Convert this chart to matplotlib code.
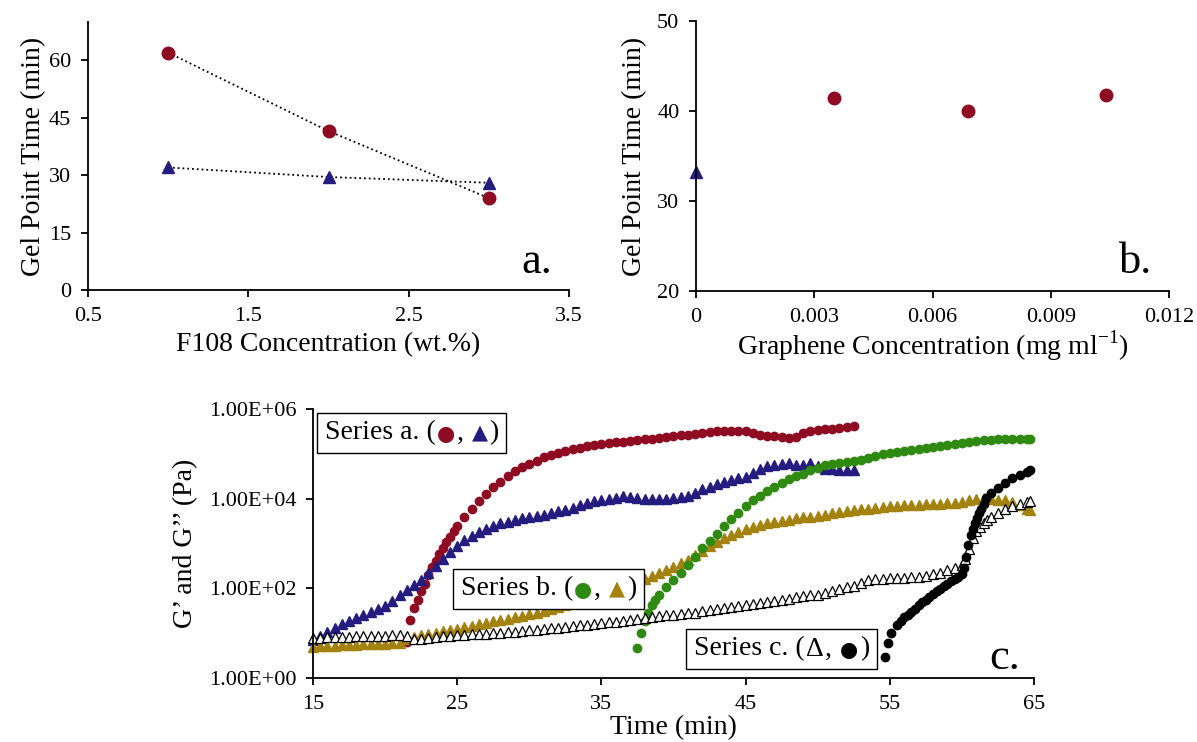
import numpy as np
import matplotlib
matplotlib.use("Agg")
import matplotlib.pyplot as plt
from matplotlib.offsetbox import TextArea, HPacker, AnnotationBbox

plt.rcParams['font.family'] = ['Liberation Serif', 'DejaVu Sans']
plt.rcParams['mathtext.fontset'] = 'custom'
plt.rcParams['mathtext.rm'] = 'Liberation Serif'

# ---- colores ----
ROJO = '#8E0B22'
AZUL = '#241C7E'
VERDE = '#2F8A12'
ORO = '#A3820F'

# ---- panel a: gel point vs F108 ----
f108 = [1, 2, 3]
gel_a_circ = [62, 41.5, 24]
gel_a_tri = [32, 29.5, 28]

# ---- panel b: gel point vs graphene ----
graf_circ = [0.0035, 0.0069, 0.0104]
gel_b_circ = [41.5, 40.0, 41.8]
graf_tri = [0.0]
gel_b_tri = [33.2]

# ---- panel c: G' y G'' (log10 Pa) vs tiempo ----
t_a1 = [21.5, 21.75, 22.0, 22.25, 22.5, 22.75, 23.0, 23.25, 23.5, 23.75, 24.0, 24.25, 24.5, 24.75, 25.0,
        25.5, 26.0, 26.5, 27.0, 27.5, 28.0, 28.5, 29.0, 29.5, 30.0, 30.5, 31.0, 31.5, 32.0, 32.5, 33.0,
        33.5, 34.0, 34.5, 35.0, 35.5, 36.0, 36.5, 37.0, 37.5, 38.0, 38.5, 39.0, 39.5, 40.0, 40.5, 41.0,
        41.5, 42.0, 42.5, 43.0, 43.5, 44.0, 44.5, 45.0, 45.5, 46.0, 46.5, 47.0, 47.5, 48.0, 48.5, 49.0,
        49.5, 50.0, 50.5, 51.0, 51.5, 52.0, 52.5]
g_a1 = [0.81, 1.30, 1.55, 1.75, 1.95, 2.10, 2.30, 2.47, 2.61, 2.76, 2.90, 3.03, 3.15, 3.27, 3.38,
        3.58, 3.78, 3.95, 4.10, 4.25, 4.38, 4.50, 4.61, 4.70, 4.78, 4.85, 4.92, 4.97, 5.02, 5.06, 5.10,
        5.13, 5.17, 5.20, 5.23, 5.25, 5.27, 5.27, 5.28, 5.30, 5.32, 5.34, 5.35, 5.37, 5.39, 5.41, 5.42,
        5.44, 5.46, 5.48, 5.50, 5.51, 5.50, 5.50, 5.51, 5.47, 5.41, 5.39, 5.40, 5.38, 5.36, 5.38, 5.47,
        5.52, 5.53, 5.55, 5.56, 5.58, 5.59, 5.62]

t_a2 = [15.0, 15.5, 16.0, 16.5, 17.0, 17.5, 18.0, 18.5, 19.0, 19.5, 20.0, 20.5, 21.0, 21.5, 22.0,
        22.5, 23.0, 23.5, 24.0, 24.5, 25.0, 25.5, 26.0, 26.5, 27.0, 27.5, 28.0, 28.5, 29.0, 29.5, 30.0,
        30.5, 31.0, 31.5, 32.0, 32.5, 33.0, 33.5, 34.0, 34.5, 35.0, 35.5, 36.0, 36.5, 37.0, 37.5, 38.0,
        38.5, 39.0, 39.5, 40.0, 40.5, 41.0, 41.5, 42.0, 42.5, 43.0, 43.5, 44.0, 44.5, 45.0, 45.5, 46.0,
        46.5, 47.0, 47.5, 48.0, 48.5, 49.0, 49.5, 50.0, 50.5, 51.0, 51.5, 52.0, 52.5]
g_a2 = [0.85, 0.93, 1.03, 1.12, 1.20, 1.27, 1.33, 1.40, 1.47, 1.54, 1.61, 1.72, 1.84, 1.96, 2.07,
        2.18, 2.35, 2.50, 2.66, 2.82, 2.95, 3.08, 3.17, 3.26, 3.32, 3.39, 3.45, 3.49, 3.53, 3.56, 3.59,
        3.61, 3.64, 3.68, 3.72, 3.75, 3.80, 3.86, 3.91, 3.95, 3.97, 4.00, 4.02, 4.06, 4.04, 4.01, 3.99,
        4.00, 4.00, 3.99, 4.01, 4.03, 4.06, 4.13, 4.21, 4.27, 4.32, 4.37, 4.42, 4.46, 4.49, 4.58, 4.67,
        4.72, 4.75, 4.78, 4.80, 4.76, 4.74, 4.80, 4.72, 4.67, 4.66, 4.65, 4.64, 4.64]

t_b1 = [37.5, 37.75, 38.0, 38.25, 38.5, 38.75, 39.0, 39.5, 40.0, 40.5, 41.0, 41.5, 42.0, 42.5, 43.0,
        43.5, 44.0, 44.5, 45.0, 45.5, 46.0, 46.5, 47.0, 47.5, 48.0, 48.5, 49.0, 49.5, 50.0, 50.5, 51.0,
        51.5, 52.0, 52.5, 53.0, 53.5, 54.0, 54.5, 55.0, 55.5, 56.0, 56.5, 57.0, 57.5, 58.0, 58.5, 59.0,
        59.5, 60.0, 60.5, 61.0, 61.5, 62.0, 62.5, 63.0, 63.5, 64.0, 64.5, 64.75]
g_b1 = [0.66, 1.00, 1.28, 1.45, 1.62, 1.75, 1.86, 2.03, 2.19, 2.35, 2.51, 2.70, 2.89, 3.06, 3.22,
        3.39, 3.55, 3.69, 3.83, 3.96, 4.07, 4.18, 4.27, 4.36, 4.44, 4.50, 4.56, 4.63, 4.69, 4.74, 4.77,
        4.79, 4.81, 4.83, 4.87, 4.91, 4.95, 4.99, 5.02, 5.04, 5.06, 5.08, 5.10, 5.12, 5.15, 5.18, 5.20,
        5.22, 5.25, 5.27, 5.29, 5.30, 5.31, 5.32, 5.32, 5.33, 5.33, 5.34, 5.34]

t_b2 = [15.0, 15.5, 16.0, 16.5, 17.0, 17.5, 18.0, 18.5, 19.0, 19.5, 20.0, 20.5, 21.0, 21.5, 22.0,
        22.5, 23.0, 23.5, 24.0, 24.5, 25.0, 25.5, 26.0, 26.5, 27.0, 27.5, 28.0, 28.5, 29.0, 29.5, 30.0,
        30.5, 31.0, 31.5, 32.0, 32.5, 33.0, 33.5, 34.0, 34.5, 35.0, 35.5, 36.0, 36.5, 37.0, 37.5, 38.0,
        38.5, 39.0, 39.5, 40.0, 40.5, 41.0, 41.5, 42.0, 42.5, 43.0, 43.5, 44.0, 44.5, 45.0, 45.5, 46.0,
        46.5, 47.0, 47.5, 48.0, 48.5, 49.0, 49.5, 50.0, 50.5, 51.0, 51.5, 52.0, 52.5, 53.0, 53.5, 54.0,
        54.5, 55.0, 55.5, 56.0, 56.5, 57.0, 57.5, 58.0, 58.5, 59.0, 59.5, 60.0, 60.5, 61.0, 61.5, 62.0,
        62.5, 63.0, 63.5, 64.0, 64.5, 64.75]
g_b2 = [0.70, 0.71, 0.71, 0.72, 0.73, 0.74, 0.74, 0.75, 0.75, 0.76, 0.76, 0.77, 0.79, 0.86, 0.92,
        0.95, 0.98, 1.01, 1.04, 1.07, 1.10, 1.13, 1.17, 1.20, 1.23, 1.26, 1.29, 1.32, 1.35, 1.38, 1.42,
        1.46, 1.50, 1.54, 1.58, 1.62, 1.67, 1.72, 1.77, 1.81, 1.86, 1.92, 1.98, 2.05, 2.11, 2.16, 2.21,
        2.27, 2.34, 2.41, 2.48, 2.56, 2.64, 2.74, 2.84, 2.94, 3.04, 3.13, 3.20, 3.26, 3.32, 3.37, 3.41,
        3.45, 3.48, 3.51, 3.53, 3.56, 3.58, 3.60, 3.62, 3.64, 3.67, 3.70, 3.72, 3.74, 3.76, 3.78, 3.80,
        3.81, 3.83, 3.84, 3.85, 3.85, 3.86, 3.87, 3.88, 3.89, 3.90, 3.91, 3.93, 3.96, 3.99, 4.01, 3.99,
        3.98, 3.96, 3.92, 3.86, 3.78, 3.75]

t_c1 = [15.0, 15.5, 16.0, 16.5, 17.0, 17.5, 18.0, 18.5, 19.0, 19.5, 20.0, 20.5, 21.0, 21.5, 22.0,
        22.5, 23.0, 23.5, 24.0, 24.5, 25.0, 25.5, 26.0, 26.5, 27.0, 27.5, 28.0, 28.5, 29.0, 29.5, 30.0,
        30.5, 31.0, 31.5, 32.0, 32.5, 33.0, 33.5, 34.0, 34.5, 35.0, 35.5, 36.0, 36.5, 37.0, 37.5, 38.0,
        38.5, 39.0, 39.5, 40.0, 40.5, 41.0, 41.5, 42.0, 42.5, 43.0, 43.5, 44.0, 44.5, 45.0, 45.5, 46.0,
        46.5, 47.0, 47.5, 48.0, 48.5, 49.0, 49.5, 50.0, 50.5, 51.0, 51.5, 52.0, 52.5, 53.0, 53.5, 54.0,
        54.5, 55.0, 55.5, 56.0, 56.5, 57.0, 57.5, 58.0, 58.5, 59.0, 59.5, 60.0, 60.25, 60.5, 60.75, 61.0,
        61.25, 61.5, 61.75, 62.0, 62.5, 63.0, 63.5, 64.0, 64.5, 64.75]
g_c1 = [0.90, 0.90, 0.91, 0.91, 0.92, 0.92, 0.93, 0.93, 0.93, 0.94, 0.94, 0.95, 0.95, 0.93, 0.88,
        0.88, 0.90, 0.92, 0.93, 0.94, 0.95, 0.96, 0.97, 0.98, 0.99, 1.00, 1.01, 1.02, 1.03, 1.05, 1.06,
        1.07, 1.09, 1.11, 1.12, 1.14, 1.16, 1.18, 1.19, 1.21, 1.22, 1.24, 1.25, 1.27, 1.29, 1.31, 1.33,
        1.36, 1.38, 1.40, 1.41, 1.43, 1.44, 1.46, 1.49, 1.52, 1.54, 1.56, 1.58, 1.61, 1.63, 1.66, 1.68,
        1.70, 1.72, 1.74, 1.77, 1.80, 1.82, 1.84, 1.86, 1.90, 1.94, 1.98, 2.02, 2.05, 2.12, 2.18, 2.20,
        2.21, 2.22, 2.23, 2.24, 2.25, 2.26, 2.28, 2.31, 2.35, 2.40, 2.46, 2.53, 2.65, 2.88, 3.12, 3.27,
        3.36, 3.45, 3.53, 3.60, 3.69, 3.78, 3.84, 3.89, 3.92, 3.94]

t_c2 = [54.7, 54.85, 55.1, 55.5, 55.75, 56.0, 56.25, 56.5, 56.75, 57.0, 57.25, 57.5, 57.75, 58.0, 58.25,
        58.5, 58.75, 59.0, 59.25, 59.5, 59.75, 60.0, 60.15, 60.3, 60.45, 60.6, 60.75, 60.9, 61.05, 61.2,
        61.35, 61.5, 61.7, 62.0, 62.5, 63.0, 63.5, 64.0, 64.5, 64.75]
g_c2 = [0.47, 0.79, 1.01, 1.18, 1.27, 1.35, 1.41, 1.47, 1.54, 1.62, 1.69, 1.75, 1.81, 1.88, 1.93,
        1.99, 2.05, 2.10, 2.16, 2.21, 2.25, 2.33, 2.45, 2.70, 2.97, 3.18, 3.33, 3.45, 3.57, 3.67,
        3.77, 3.88, 4.02, 4.12, 4.24, 4.36, 4.46, 4.53, 4.59, 4.63]

ticks_c = [1, 1e2, 1e4, 1e6]
ticks_c_lbl = ['1.00E+00', '1.00E+02', '1.00E+04', '1.00E+06']

fig = plt.figure(figsize=(11.97, 7.42), dpi=100)


def estilo(ax):
    for s in ['top', 'right']:
        ax.spines[s].set_visible(False)
    for s in ['left', 'bottom']:
        ax.spines[s].set_linewidth(1.3)
    ax.tick_params(direction='out', length=5, width=1.3, labelsize=16, pad=7)
    ax.minorticks_off()


# ------- panel a -------
axa = fig.add_axes([0.0735, 0.6092, 0.4019, 0.3612])
axa.plot(f108, gel_a_circ, ':', color='black', lw=1.3, zorder=1)
axa.plot(f108, gel_a_tri, ':', color='black', lw=1.3, zorder=1)
axa.plot(f108, gel_a_circ, 'o', color=ROJO, ms=9, zorder=2)
axa.plot(f108, gel_a_tri, '^', color=AZUL, ms=9, zorder=2)
axa.set_xlim(0.5, 3.5)
axa.set_ylim(0, 70)
axa.set_xticks([0.5, 1.5, 2.5, 3.5])
axa.set_yticks([0, 15, 30, 45, 60])
estilo(axa)
axa.set_xlabel('F108 Concentration (wt.%)', fontsize=20, labelpad=5)
axa.set_ylabel('Gel Point Time (min)', fontsize=20, labelpad=2)
axa.text(0.965, 0.063, 'a.', transform=axa.transAxes, fontsize=32, ha='right', va='baseline')

# ------- panel b -------
axb = fig.add_axes([0.5815, 0.6078, 0.3951, 0.3639])
axb.plot(graf_circ, gel_b_circ, 'o', color=ROJO, ms=9, clip_on=False)
axb.plot(graf_tri, gel_b_tri, '^', color=AZUL, ms=8, clip_on=False)
axb.set_xlim(0, 0.012)
axb.set_ylim(20, 50)
axb.set_xticks([0, 0.003, 0.006, 0.009, 0.012])
axb.set_xticklabels(['0', '0.003', '0.006', '0.009', '0.012'])
axb.set_yticks([20, 30, 40, 50])
estilo(axb)
axb.set_xlabel(r'Graphene Concentration (mg ml$^{\mathregular{-1}}$)', fontsize=20, labelpad=1)
axb.set_ylabel('Gel Point Time (min)', fontsize=20, labelpad=7)
axb.text(0.964, 0.067, 'b.', transform=axb.transAxes, fontsize=32, ha='right', va='baseline')

# ------- panel c -------
axc = fig.add_axes([0.2615, 0.0863, 0.6023, 0.3625])
axc.plot(t_a1, 10 ** np.array(g_a1), 'o', color=ROJO, ms=6, mec=ROJO, clip_on=False)
axc.plot(t_a2, 10 ** np.array(g_a2), '^', color=AZUL, ms=7, mec=AZUL, clip_on=False)
axc.plot(t_b2, 10 ** np.array(g_b2), '^', color=ORO, ms=7, mec=ORO, clip_on=False)
axc.plot(t_b1, 10 ** np.array(g_b1), 'o', color=VERDE, ms=6, mec=VERDE, clip_on=False)
axc.plot(t_c1, 10 ** np.array(g_c1), '^', mfc='white', mec='black', mew=0.9, ms=7, ls='none', clip_on=False)
axc.plot(t_c2, 10 ** np.array(g_c2), 'o', color='black', ms=6, clip_on=False)
axc.set_yscale('log')
axc.set_xlim(15, 65)
axc.set_ylim(1, 1e6)
axc.set_xticks([15, 25, 35, 45, 55, 65])
axc.set_yticks(ticks_c)
axc.set_yticklabels(ticks_c_lbl)
estilo(axc)
axc.set_xlabel('Time (min)', fontsize=20, labelpad=1)
axc.set_ylabel('G\u2019 and G\u2019\u2019 (Pa)', fontsize=20, labelpad=8)
axc.text(0.98, 0.035, 'c.', transform=axc.transAxes, fontsize=32, ha='right', va='baseline')


def caja(ax, x, y, nombre, s1, c1, s2, c2):
    fp = dict(fontsize=20, family=['Liberation Serif', 'DejaVu Sans'])
    fs = dict(fontsize=15, family=['DejaVu Sans'])
    partes = [TextArea(nombre + ' (', textprops=dict(color='black', **fp)),
              TextArea(s1, textprops=dict(color=c1, **(fp if s1 == '\u0394' else fs))),
              TextArea(',\u00a0', textprops=dict(color='black', **fp)),
              TextArea(s2, textprops=dict(color=c2, **fs)),
              TextArea(')', textprops=dict(color='black', **fp))]
    fila = HPacker(children=partes, align='baseline', pad=0, sep=1)
    ab = AnnotationBbox(fila, (x, y), xycoords='axes fraction', box_alignment=(0, 1),
                        frameon=True, pad=0.55,
                        bboxprops=dict(edgecolor='black', facecolor='white', linewidth=1.0))
    ax.add_artist(ab)


caja(axc, 0.0166, 0.957, 'Series a.', '\u25cf', ROJO, '\u25b2', AZUL)
caja(axc, 0.2047, 0.377, 'Series b.', '\u25cf', VERDE, '\u25b2', ORO)
caja(axc, 0.5279, 0.154, 'Series c.', '\u0394', 'black', '\u25cf', 'black')

plt.savefig('out.png', dpi=100)
